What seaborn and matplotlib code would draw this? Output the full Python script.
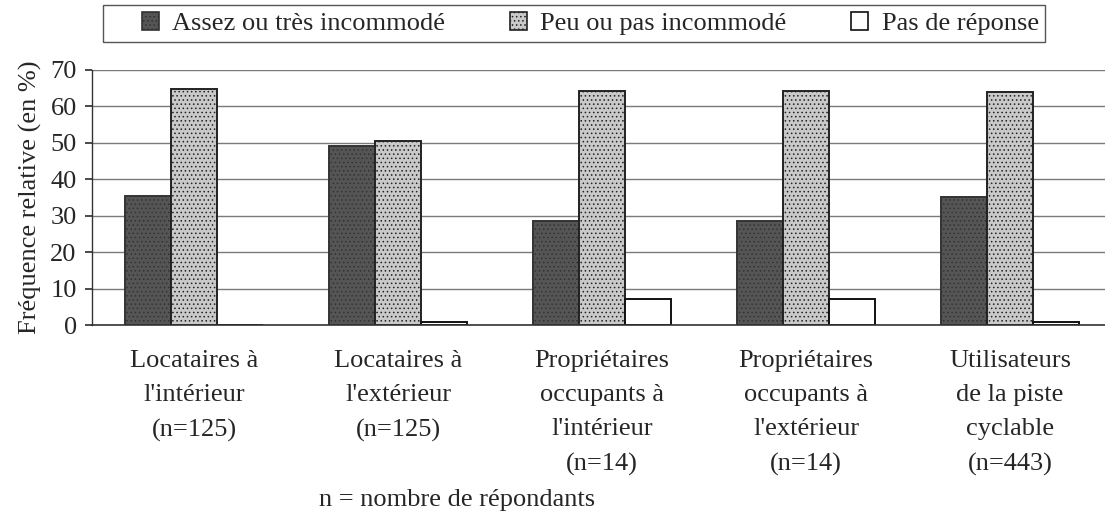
import matplotlib
matplotlib.use("Agg")
import matplotlib.pyplot as plt
import seaborn as sns
import pandas as pd
from matplotlib.patches import Patch, Rectangle

categories = [
    "Locataires à\nl'intérieur\n(n=125)",
    "Locataires à\nl'extérieur\n(n=125)",
    "Propriétaires\noccupants à\nl'intérieur\n(n=14)",
    "Propriétaires\noccupants à\nl'extérieur\n(n=14)",
    "Utilisateurs\nde la piste\ncyclable\n(n=443)",
]
series_names = ["Assez ou très incommodé", "Peu ou pas incommodé", "Pas de réponse"]
assez = [35.3, 49.2, 28.6, 28.6, 35.2]
peu = [64.7, 50.4, 64.3, 64.3, 64.0]
pas_rep = [0.0, 0.8, 7.1, 7.1, 0.8]
yticks = [0, 10, 20, 30, 40, 50, 60, 70]
footer = "n = nombre de répondants"
ylabel = "Fréquence relative (en %)"

rows = []
for s, vals in zip(series_names, [assez, peu, pas_rep]):
    for c, v in zip(categories, vals):
        rows.append({"cat": c, "serie": s, "val": v})
df = pd.DataFrame(rows)

sns.set_theme(style="white")
plt.rcParams["font.family"] = ["Liberation Serif", "DejaVu Serif"]
plt.rcParams["hatch.linewidth"] = 0.6

fills = ["#555555", "#c9c9c9", "#ffffff"]
edges = ["#333333", "#222222", "#111111"]
hatches = ["....", "....", None]

fig = plt.figure(figsize=(11.05, 5.2), dpi=100)
ax = fig.add_axes([92 / 1105, 1 - 325 / 520, 1020 / 1105, 255 / 520])

sns.barplot(data=df, x="cat", y="val", hue="serie", order=categories,
            hue_order=series_names, palette=fills, width=0.68, ax=ax,
            legend=False, saturation=1)

for cont, ec, h, fc in zip(ax.containers, edges, hatches, fills):
    for p in cont:
        p.set_edgecolor(ec)
        p.set_linewidth(1.4)
        p.set_facecolor(fc)
        if h:
            p.set_hatch(h)

ax.set_ylim(0, 70)
ax.set_xlim(-0.5, 4.5)
ax.set_yticks(yticks)
ax.yaxis.grid(True, color="#7a7a7a", linewidth=1.0)
ax.set_axisbelow(True)
for s in ["top", "right"]:
    ax.spines[s].set_visible(False)
ax.spines["left"].set_color("#333333")
ax.spines["bottom"].set_color("#333333")
ax.spines["left"].set_linewidth(1.0)
ax.spines["bottom"].set_linewidth(1.2)

ax.set_xticks(range(len(categories)))
ax.set_xticklabels(categories, fontsize=19, linespacing=1.72, va="top")
ax.tick_params(axis="x", which="major", length=0, pad=18)
ax.set_xticks([-0.5, 0.5, 1.5, 2.5, 3.5], minor=True)
ax.tick_params(axis="x", which="minor", length=7, color="#333333", width=1)
ax.tick_params(axis="y", length=5, color="#333333", labelsize=19, pad=6, left=True)
ax.set_xlabel("")
ax.set_ylabel(ylabel, fontsize=19, labelpad=6)

fig.text(457 / 1105, 1 - 500 / 520, footer, fontsize=19, ha="center", va="center")

# legend frame
fig.patches.append(Rectangle((103 / 1105, 1 - 42 / 520), 942 / 1105, 37 / 520,
                             transform=fig.transFigure, facecolor="white",
                             edgecolor="#555555", linewidth=1.0, zorder=0))
handles = [Patch(facecolor=f, edgecolor=e, hatch=h, linewidth=1.2)
           for f, e, h in zip(fills, edges, hatches)]
leg = fig.legend(handles, series_names, loc="center left",
                 bbox_to_anchor=(142 / 1105, 1 - 23.5 / 520),
                 ncol=3, fontsize=19, frameon=False,
                 handlelength=0.65, handleheight=0.65, handletextpad=0.5,
                 columnspacing=2.45, borderpad=0, borderaxespad=0)

fig.savefig("out.png", dpi=100)
